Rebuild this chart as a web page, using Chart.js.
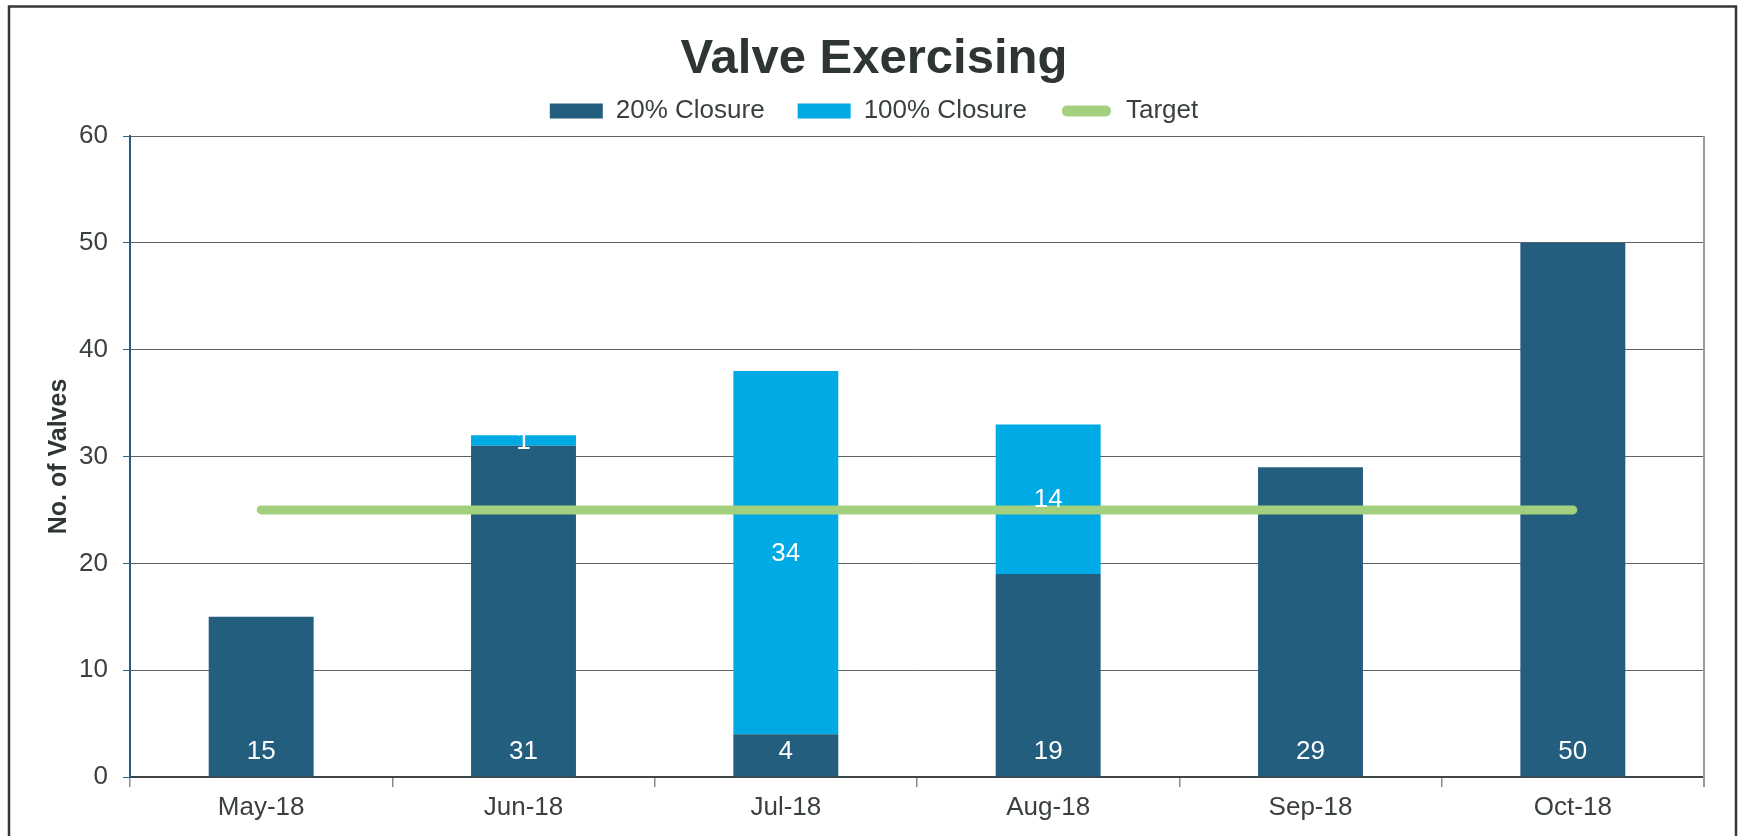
<!DOCTYPE html>
<html>
<head>
<meta charset="utf-8">
<script src="https://cdn.jsdelivr.net/npm/chart.js@4.4.1/dist/chart.umd.min.js"></script>
<style>
  html, body { margin: 0; padding: 0; background: #fff; }
  #wrap { width: 1741px; height: 836px; }
</style>
</head>
<body>
<div id="wrap"><canvas id="valveChart" width="1741" height="836"></canvas></div>
<script>
const months = ["May-18", "Jun-18", "Jul-18", "Aug-18", "Sep-18", "Oct-18"];
const closure20 = [15, 31, 4, 19, 29, 50];
const closure100 = [0, 1, 34, 14, 0, 0];
const target = [25, 25, 25, 25, 25, 25];

const FONT = "'Liberation Sans', Arial, sans-serif";
const TEXT = "#3a3f3f";

// white value labels: 20% at the bar foot, 100% in the middle of its segment
const valueLabels = {
  id: "valueLabels",
  afterDatasetsDraw(chart) {
    const ctx = chart.ctx;
    ctx.save();
    ctx.fillStyle = "#ffffff";
    ctx.font = "26px " + FONT;
    ctx.textAlign = "center";
    ctx.textBaseline = "middle";
    [0, 1].forEach((di) => {
      const meta = chart.getDatasetMeta(di);
      const vals = chart.data.datasets[di].data;
      meta.data.forEach((bar, i) => {
        if (!vals[i]) return;
        const y = di === 0 ? bar.base - 25 : (bar.y + bar.base) / 2 + 1;
        ctx.fillText(String(vals[i]), bar.x, y);
      });
    });
    ctx.restore();
  },
};

// plot-area right edge and the outer chart frame
const frame = {
  id: "frame",
  afterDraw(chart) {
    const { ctx, chartArea } = chart;
    ctx.save();
    ctx.strokeStyle = "#9a9a9a";
    ctx.lineWidth = 2;
    ctx.beginPath();
    ctx.moveTo(chartArea.right, chartArea.top);
    ctx.lineTo(chartArea.right, chartArea.bottom + 10);
    ctx.stroke();
    ctx.strokeStyle = "#333838";
    ctx.lineWidth = 2.5;
    ctx.strokeRect(9, 6.5, 1727, 900);
    ctx.restore();
  },
};

const ctx = document.getElementById("valveChart").getContext("2d");
new Chart(ctx, {
  data: {
    labels: months,
    datasets: [
      {
        type: "bar",
        label: "20% Closure",
        data: closure20,
        backgroundColor: "#245e7f",
        stack: "valves",
        xAxisID: "x",
        barPercentage: 0.4,
        categoryPercentage: 1.0,
      },
      {
        type: "bar",
        label: "100% Closure",
        data: closure100,
        backgroundColor: "#00aae4",
        stack: "valves",
        xAxisID: "x",
        barPercentage: 0.4,
        categoryPercentage: 1.0,
      },
      {
        type: "line",
        label: "Target",
        data: target,
        borderColor: "#a3d07f",
        backgroundColor: "#a3d07f",
        borderWidth: 9,
        borderCapStyle: "round",
        pointRadius: 0,
        stack: "target",
        xAxisID: "x",
        order: -1,
      },
    ],
  },
  options: {
    responsive: false,
    animation: false,
    devicePixelRatio: 1,
    layout: { padding: { left: 44, right: 37, top: 0, bottom: 0 } },
    plugins: {
      tooltip: { enabled: false },
      title: {
        display: true,
        text: "Valve Exercising",
        color: "#2f3535",
        font: { family: FONT, size: 49, weight: "bold" },
        padding: { top: 29.6, bottom: -23.4 },
      },
      legend: {
        display: true,
        position: "top",
        labels: {
          boxWidth: 53,
          boxHeight: 15,
          padding: 33,
          color: TEXT,
          font: { family: FONT, size: 26 },
          generateLabels: (chart) =>
            chart.data.datasets.map((ds, i) => ({
              text: ds.label,
              datasetIndex: i,
              hidden: false,
              fontColor: TEXT,
              fillStyle: ds.type === "line" ? ds.borderColor : ds.backgroundColor,
              strokeStyle: "#ffffff",
              lineWidth: ds.type === "line" ? 4 : 0,
              borderRadius: ds.type === "line" ? 7 : 0,
            })),
        },
      },
    },
    scales: {
      x: {
        type: "category",
        position: "bottom",
        stacked: true,
        offset: true,
        grid: {
          display: true,
          offset: true,
          drawOnChartArea: false,
          drawTicks: true,
          tickLength: 10,
          color: "#8c8c8c",
          lineWidth: 1.5,
        },
        border: { display: true, color: "#404545", width: 2 },
        ticks: { color: TEXT, padding: 5, font: { family: FONT, size: 26 } },
        afterFit: (s) => { s.height = 59; },
      },
      xTop: {
        type: "category",
        position: "top",
        display: true,
        grid: { display: false, drawTicks: false },
        border: { display: false },
        ticks: { display: false },
        afterFit: (s) => { s.height = 2; },
      },
      y: {
        stacked: true,
        min: 0,
        max: 60,
        ticks: {
          stepSize: 10,
          color: TEXT,
          padding: 15,
          font: { family: FONT, size: 26 },
        },
        grid: {
          color: "#5f6363",
          lineWidth: 1,
          tickLength: 7,
          tickColor: "#2f6a8f",
        },
        border: { display: true, color: "#245e7f", width: 2 },
        title: {
          display: true,
          text: "No. of Valves",
          color: "#2f3535",
          font: { family: FONT, size: 25, weight: "bold" },
          padding: { top: 0, bottom: 0 },
        },
        afterFit: (s) => { s.width = 86; },
      },
    },
  },
  plugins: [valueLabels, frame],
});
</script>
</body>
</html>
